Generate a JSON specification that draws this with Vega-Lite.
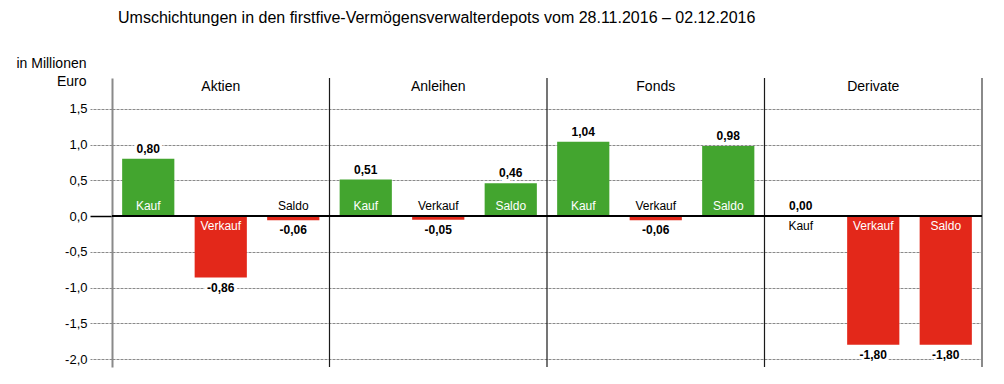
{
  "$schema": "https://vega.github.io/schema/vega-lite/v6.json",
  "autosize": "none",
  "width": 870,
  "height": 289,
  "padding": {"left": 112, "top": 78, "right": 22, "bottom": 17},
  "config": {
    "view": {"stroke": null},
    "locale": {"number": {"decimal": ",", "thousands": ".", "grouping": [3], "currency": ["", " €"], "minus": "-"}},
    "font": "Liberation Sans"
  },
  "title": {
    "text": "Umschichtungen in den firstfive-Vermögensverwalterdepots vom 28.11.2016 – 02.12.2016",
    "anchor": "start",
    "frame": "group",
    "dx": 6,
    "offset": 30,
    "fontSize": 16,
    "fontWeight": "normal",
    "font": "Liberation Sans",
    "color": "#000"
  },
  "datasets": {
    "bars": [
      {"group": "Aktien", "type": "Kauf", "value": 0.80},
      {"group": "Aktien", "type": "Verkauf", "value": -0.86},
      {"group": "Aktien", "type": "Saldo", "value": -0.06},
      {"group": "Anleihen", "type": "Kauf", "value": 0.51},
      {"group": "Anleihen", "type": "Verkauf", "value": -0.05},
      {"group": "Anleihen", "type": "Saldo", "value": 0.46},
      {"group": "Fonds", "type": "Kauf", "value": 1.04},
      {"group": "Fonds", "type": "Verkauf", "value": -0.06},
      {"group": "Fonds", "type": "Saldo", "value": 0.98},
      {"group": "Derivate", "type": "Kauf", "value": 0.00},
      {"group": "Derivate", "type": "Verkauf", "value": -1.80},
      {"group": "Derivate", "type": "Saldo", "value": -1.80}
    ],
    "groups": [
      {"group": "Aktien"},
      {"group": "Anleihen"},
      {"group": "Fonds"},
      {"group": "Derivate"}
    ]
  },
  "data": {"name": "bars"},
  "encoding": {
    "x": {
      "field": "group",
      "type": "nominal",
      "sort": ["Aktien", "Anleihen", "Fonds", "Derivate"],
      "scale": {"paddingInner": 0, "paddingOuter": 0},
      "axis": null
    }
  },
  "layer": [
    {
      "mark": {"type": "bar"},
      "encoding": {
        "xOffset": {
          "field": "type",
          "type": "nominal",
          "sort": ["Kauf", "Verkauf", "Saldo"],
          "scale": {"paddingInner": 0.28, "paddingOuter": 0.14}
        },
        "y": {
          "field": "value",
          "type": "quantitative",
          "scale": {"domain": [-2.11, 1.93], "nice": false, "zero": false},
          "axis": {
            "values": [-2, -1.5, -1, -0.5, 0, 0.5, 1, 1.5],
            "format": ".1f",
            "grid": true,
            "gridColor": "#8a8a8a",
            "gridDash": [3, 1],
            "gridWidth": 1,
            "tickSize": 22,
            "tickColor": {"condition": {"test": "datum.value === 0", "value": "#000"}, "value": "#8a8a8a"},
            "tickDash": {"condition": {"test": "datum.value === 0", "value": []}, "value": [3, 1]},
            "tickWidth": {"condition": {"test": "datum.value === 0", "value": 1.5}, "value": 1},
            "labelPadding": 3,
            "labelFontSize": 13,
            "labelColor": "#000",
            "labelFont": "Liberation Sans",
            "domainColor": "#8a8a8a",
            "domainWidth": 2,
            "title": ["in Millionen", "Euro"],
            "titleAngle": 0,
            "titleAlign": "right",
            "titleBaseline": "alphabetic",
            "titleX": -26,
            "titleY": -11,
            "titleFontSize": 14,
            "titleFontWeight": "normal",
            "titleLineHeight": 18,
            "titleColor": "#000"
          }
        },
        "color": {
          "condition": {"test": "datum.value >= 0", "value": "#43a52f"},
          "value": "#e3281a"
        }
      }
    },
    {
      "data": {"name": "groups"},
      "transform": [{"filter": "datum.group !== 'Aktien'"}],
      "mark": {"type": "rule", "color": "#1a1a1a", "strokeWidth": 1.2},
      "encoding": {"x": {"field": "group", "type": "nominal", "bandPosition": 0}}
    },
    {
      "data": {"name": "groups"},
      "transform": [{"filter": "datum.group === 'Derivate'"}],
      "mark": {"type": "rule", "color": "#8a8a8a", "strokeWidth": 2},
      "encoding": {"x": {"field": "group", "type": "nominal", "bandPosition": 1}}
    },
    {
      "data": {"name": "groups"},
      "mark": {"type": "text", "fontSize": 14, "color": "#000", "baseline": "middle"},
      "encoding": {
        "y": {"datum": 1.80, "type": "quantitative"},
        "text": {"field": "group"}
      }
    },
    {
      "transform": [{"filter": "datum.value > 0"}],
      "mark": {"type": "text", "fontSize": 12, "fontWeight": "bold", "baseline": "alphabetic", "dy": -6, "stroke": "white", "strokeWidth": 6, "color": "white"},
      "encoding": {
        "xOffset": {"field": "type", "type": "nominal", "sort": ["Kauf", "Verkauf", "Saldo"]},
        "y": {"field": "value", "type": "quantitative"},
        "text": {"field": "value", "type": "quantitative", "format": ".2f"}
      }
    },
    {
      "transform": [{"filter": "datum.value < 0"}],
      "mark": {"type": "text", "fontSize": 12, "fontWeight": "bold", "baseline": "top", "dy": 5, "stroke": "white", "strokeWidth": 6, "color": "white"},
      "encoding": {
        "xOffset": {"field": "type", "type": "nominal", "sort": ["Kauf", "Verkauf", "Saldo"]},
        "y": {"field": "value", "type": "quantitative"},
        "text": {"field": "value", "type": "quantitative", "format": ".2f"}
      }
    },
    {
      "mark": {"type": "rule", "color": "#000", "strokeWidth": 1.5},
      "encoding": {"y": {"datum": 0, "type": "quantitative"}, "x": null}
    },
    {
      "transform": [{"filter": "datum.value >= 0"}],
      "mark": {"type": "text", "fontSize": 12, "fontWeight": "bold", "baseline": "alphabetic", "dy": -6, "color": "#000"},
      "encoding": {
        "xOffset": {"field": "type", "type": "nominal", "sort": ["Kauf", "Verkauf", "Saldo"]},
        "y": {"field": "value", "type": "quantitative"},
        "text": {"field": "value", "type": "quantitative", "format": ".2f"}
      }
    },
    {
      "transform": [{"filter": "datum.value < 0"}],
      "mark": {"type": "text", "fontSize": 12, "fontWeight": "bold", "baseline": "top", "dy": 5, "color": "#000"},
      "encoding": {
        "xOffset": {"field": "type", "type": "nominal", "sort": ["Kauf", "Verkauf", "Saldo"]},
        "y": {"field": "value", "type": "quantitative"},
        "text": {"field": "value", "type": "quantitative", "format": ".2f"}
      }
    },
    {
      "transform": [{"filter": "datum.value > 0 || (datum.value < 0 && datum.value > -0.2)"}],
      "mark": {"type": "text", "fontSize": 12, "baseline": "alphabetic", "dy": -6},
      "encoding": {
        "xOffset": {"field": "type", "type": "nominal", "sort": ["Kauf", "Verkauf", "Saldo"]},
        "y": {"datum": 0, "type": "quantitative"},
        "text": {"field": "type"},
        "color": {"condition": {"test": "datum.value > 0.2", "value": "white"}, "value": "#000"}
      }
    },
    {
      "transform": [{"filter": "datum.value <= -0.2 || datum.value === 0"}],
      "mark": {"type": "text", "fontSize": 12, "baseline": "top", "dy": 5},
      "encoding": {
        "xOffset": {"field": "type", "type": "nominal", "sort": ["Kauf", "Verkauf", "Saldo"]},
        "y": {"datum": 0, "type": "quantitative"},
        "text": {"field": "type"},
        "color": {"condition": {"test": "datum.value < -0.2", "value": "white"}, "value": "#000"}
      }
    }
  ]
}
